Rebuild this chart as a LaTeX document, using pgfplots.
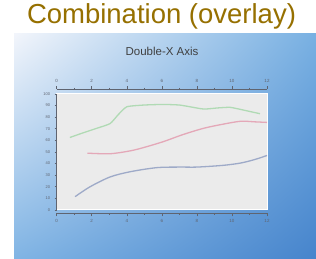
\documentclass[border=0pt]{standalone}
\usepackage{pgfplots}
\pgfplotsset{compat=1.18}
\usetikzlibrary{shadings}
\usepackage{fontspec}
\setmainfont{Liberation Sans}
\definecolor{titlegold}{RGB}{150,112,0}
\definecolor{cgreen}{RGB}{176,218,180}
\definecolor{cred}{RGB}{228,168,184}
\definecolor{cblue}{RGB}{158,170,200}
\definecolor{bgTL}{RGB}{242,245,251}
\definecolor{bgTR}{RGB}{120,176,226}
\definecolor{bgBL}{RGB}{128,180,228}
\definecolor{bgBR}{RGB}{70,132,204}
\definecolor{axgray}{RGB}{95,100,112}
\pgfplotsset{/pgf/number format/assume math mode=true}
\begin{document}
\begin{tikzpicture}[x=1pt,y=1pt]
\useasboundingbox (0,0) rectangle (316,259);
\fill[white] (0,0) rectangle (316,259);
\shade[upper left=bgTL, upper right=bgTR, lower left=bgBL, lower right=bgBR] (14,0) rectangle (316,225);
\node[anchor=base, text=titlegold, font=\fontsize{27.5}{30}\selectfont, inner sep=0pt] at (161.5,235) {Combination (overlay)};
\node[text=black!75, font=\fontsize{11.5}{13}\selectfont, inner sep=0pt] at (162,208) {Double-X Axis};
% data axis
\begin{axis}[
  at={(56.7pt,49pt)}, anchor=south west, scale only axis,
  width=210.3pt, height=116pt,
  xmin=0, xmax=12, ymin=0, ymax=100,
  hide x axis, axis y line*=left,
  axis background/.style={fill=black!8, draw=white, line width=1pt},
  ytick={0,10,...,100},
  tick label style={font=\fontsize{4}{5}\selectfont, text=axgray},
  axis line style={axgray, line width=0.8pt},
  tick style={axgray, line width=0.6pt},
  tick align=outside, major tick length=2pt,
  yticklabel style={xshift=-1pt},
]
\addplot[cgreen, line width=1.3pt, smooth, tension=0.3] coordinates {
(0.75,62.5) (1.5,66.5) (2.3,70.5) (3.05,74.5) (3.5,82) (4.0,89) (5,90.5) (6.1,91) (7,90.5) (7.6,89) (8.4,87) (9.2,88) (9.9,88.5) (10.7,86) (11.6,83)};
\addplot[cred, line width=1.3pt, smooth] coordinates {
(1.75,49) (3.05,48.5) (4.2,51) (5,54) (6.1,59) (7.2,65) (8.4,70.5) (9.5,74) (10.5,76.5) (11.3,76) (12,75.5)};
\addplot[cblue, line width=1.3pt, smooth] coordinates {
(1.05,11.5) (1.9,20) (3.05,28.5) (4.2,33) (5.7,36.5) (7,37) (8,37) (9.5,38.5) (10.5,40.5) (11.3,43.5) (12,47)};
\end{axis}
% bottom x axis
\begin{axis}[
  at={(56.7pt,45.7pt)}, anchor=south west, scale only axis,
  width=210.3pt, height=124pt,
  xmin=0, xmax=12, ymin=0, ymax=1,
  hide y axis, axis x line*=bottom,
  xtick={0,2,...,12}, minor x tick num=1,
  tick label style={font=\fontsize{4.5}{5}\selectfont, text=axgray},
  axis line style={axgray, line width=0.8pt},
  tick style={axgray, line width=0.6pt},
  tick align=outside, major tick length=3pt, minor tick length=1.5pt,
]
\end{axis}
% top x axis
\begin{axis}[
  at={(56.7pt,45.7pt)}, anchor=south west, scale only axis,
  width=210.3pt, height=124pt,
  xmin=0, xmax=12, ymin=0, ymax=1,
  hide y axis, axis x line*=top,
  xtick={0,2,...,12}, minor x tick num=1,
  tick label style={font=\fontsize{4.5}{5}\selectfont, text=axgray},
  axis line style={axgray, line width=0.8pt},
  tick style={axgray, line width=0.6pt},
  tick align=outside, major tick length=3pt, minor tick length=1.5pt,
]
\end{axis}
\end{tikzpicture}
\end{document}
